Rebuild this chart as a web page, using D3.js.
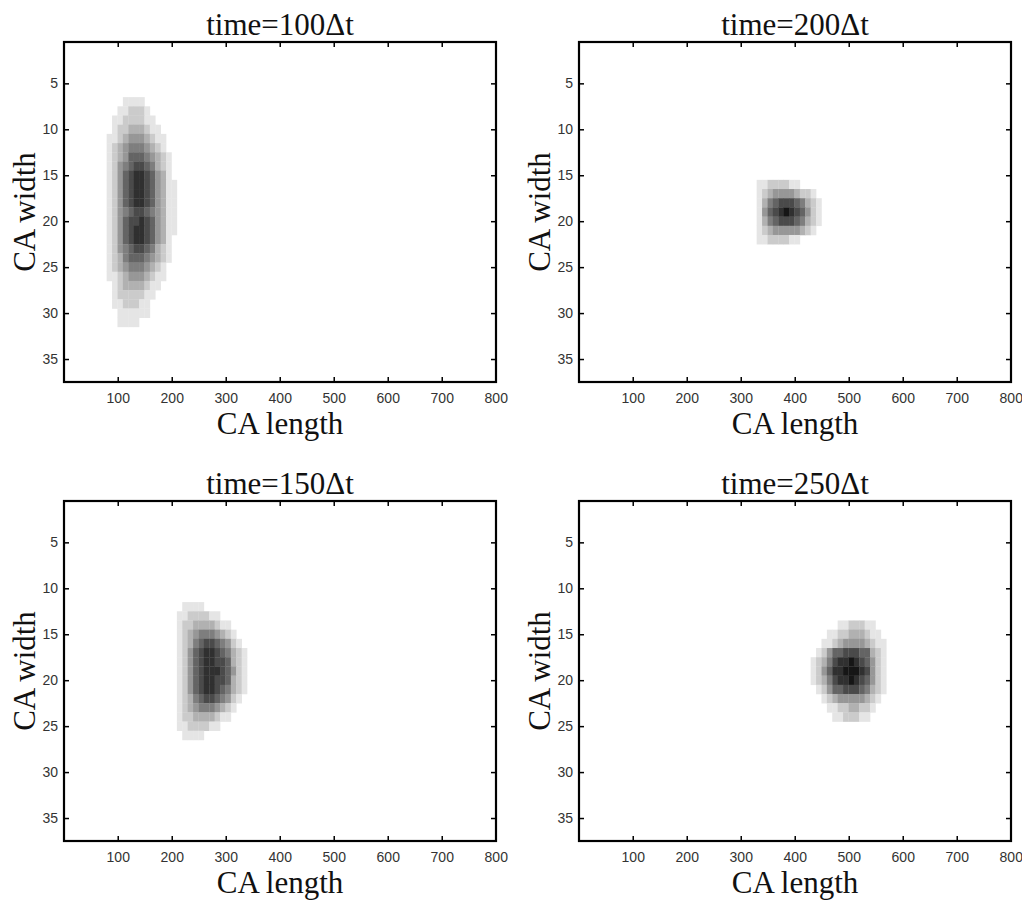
<!DOCTYPE html>
<html>
<head>
<meta charset="utf-8">
<script src="https://cdn.jsdelivr.net/npm/d3@7"></script>
<style>
  body { margin: 0; background: #fff; }
  svg { display: block; }
  .tick-label { font-family: "Liberation Sans", Arial, sans-serif; font-size: 14px; fill: #333; }
  .serif { font-family: "Liberation Serif", "Times New Roman", serif; fill: #111; }
</style>
</head>
<body>
<script>
/* global d3 */

// snapshots of the CA grid, 37 rows x 800 columns
const titles = ['time=100\u0394t', 'time=200\u0394t', 'time=150\u0394t', 'time=250\u0394t']
const xTicks = [100, 200, 300, 400, 500, 600, 700, 800]
const yTicks = [5, 10, 15, 20, 25, 30, 35]
const xLabel = 'CA length'
const yLabel = 'CA width'

// each string is one CA row, one digit per 10 columns (0 = empty, 9 = densest)
// [first column, first row]
const start100 = [80, 7]
const rows100 = [
  '00011110000000',
  '00112221000000',
  '01122221100000',
  '01223332110000',
  '11234443211000',
  '12345554321000',
  '12346665432100',
  '12456776532100',
  '12467887643100',
  '12467887643110',
  '12467887643110',
  '12467887643110',
  '12456776543110',
  '12467787643110',
  '12467887643110',
  '12467887643100',
  '12456776532100',
  '12356665432100',
  '12345554321000',
  '11234443211000',
  '01233332110000',
  '01222221100000',
  '01122211000000',
  '00111111000000',
  '00111100000000'
]

const start200 = [330, 16]
const rows200 = [
  '112222110000',
  '123444432210',
  '135677765321',
  '146789876421',
  '135677765321',
  '123444443210',
  '112222110000'
]

const start150 = [210, 12]
const rows150 = [
  '0111100000000',
  '1122221100000',
  '1223333211000',
  '1234555432100',
  '1235677654210',
  '1246788765321',
  '1246788776321',
  '1246788876421',
  '1246788776321',
  '1246788765321',
  '1235677654210',
  '1234555432100',
  '1223333211000',
  '1122221100000',
  '0111100000000'
]

const start250 = [430, 14]
const rows250 = [
  '00000112221100',
  '00011223332110',
  '00112344443211',
  '01246677766321',
  '12357889876421',
  '12468899987421',
  '12357889876421',
  '01246677765321',
  '00123444443210',
  '00011223322100',
  '00001122211000'
]

const snapshots = [
  { start: start100, rows: rows100 },
  { start: start200, rows: rows200 },
  { start: start150, rows: rows150 },
  { start: start250, rows: rows250 }
]

const W = 1022
const H = 901
const pw = 432
const ph = 340
const lefts = [64, 579, 64, 579]
const tops = [42, 42, 501, 501]

const svg = d3.select('body').append('svg')
  .attr('width', W)
  .attr('height', H)

const gray = d3.scaleLinear().domain([0, 9]).range(['#ffffff', '#161616'])

function cells (snap) {
  const out = []
  snap.rows.forEach((row, j) => {
    row.split('').forEach((ch, i) => {
      const v = +ch
      if (v > 0) out.push({ c: snap.start[0] + i * 10, r: snap.start[1] + j, v })
    })
  })
  return out
}

snapshots.forEach((snap, k) => {
  const x0 = lefts[k]
  const y0 = tops[k]

  const x = d3.scaleLinear().domain([0.5, 800.5]).range([x0, x0 + pw])
  const y = d3.scaleLinear().domain([0.5, 37.5]).range([y0, y0 + ph])

  const g = svg.append('g')

  g.selectAll('rect.cell')
    .data(cells(snap))
    .enter()
    .append('rect')
      .attr('class', 'cell')
      .attr('x', d => x(d.c - 0.5))
      .attr('y', d => y(d.r - 0.5))
      .attr('width', d => x(d.c + 9.5) - x(d.c - 0.5) + 0.3)
      .attr('height', d => y(d.r + 0.5) - y(d.r - 0.5) + 0.3)
      .attr('fill', d => gray(d.v))

  // inward ticks on all four sides
  const bottom = d3.axisBottom(x).tickValues(xTicks).tickSize(-5).tickPadding(11)
  const top = d3.axisTop(x).tickValues(xTicks).tickSize(-5).tickFormat('')
  const left = d3.axisLeft(y).tickValues(yTicks).tickSize(-5).tickPadding(6)
  const right = d3.axisRight(y).tickValues(yTicks).tickSize(-5).tickFormat('')

  const gb = g.append('g').attr('transform', `translate(0,${y0 + ph})`).call(bottom)
  const gt = g.append('g').attr('transform', `translate(0,${y0})`).call(top)
  const gl = g.append('g').attr('transform', `translate(${x0},0)`).call(left)
  const gr = g.append('g').attr('transform', `translate(${x0 + pw},0)`).call(right)

  ;[gb, gt, gl, gr].forEach(a => {
    a.select('.domain').remove()
    a.selectAll('.tick line').attr('stroke', '#000').attr('stroke-width', 1.5)
    a.selectAll('.tick text').attr('class', 'tick-label').attr('font-size', null).attr('font-family', null)
  })

  g.append('rect')
    .attr('x', x0)
    .attr('y', y0)
    .attr('width', pw)
    .attr('height', ph)
    .attr('fill', 'none')
    .attr('stroke', '#000')
    .attr('stroke-width', 2.2)

  g.append('text')
    .attr('class', 'serif')
    .attr('x', x0 + pw / 2)
    .attr('y', y0 - 7)
    .attr('text-anchor', 'middle')
    .attr('font-size', 31)
    .text(titles[k])

  g.append('text')
    .attr('class', 'serif')
    .attr('x', x0 + pw / 2)
    .attr('y', y0 + ph + 52)
    .attr('text-anchor', 'middle')
    .attr('font-size', 31)
    .text(xLabel)

  g.append('text')
    .attr('class', 'serif')
    .attr('transform', `translate(${x0 - 29},${y0 + ph / 2}) rotate(-90)`)
    .attr('text-anchor', 'middle')
    .attr('font-size', 31)
    .text(yLabel)
})
</script>
</body>
</html>
